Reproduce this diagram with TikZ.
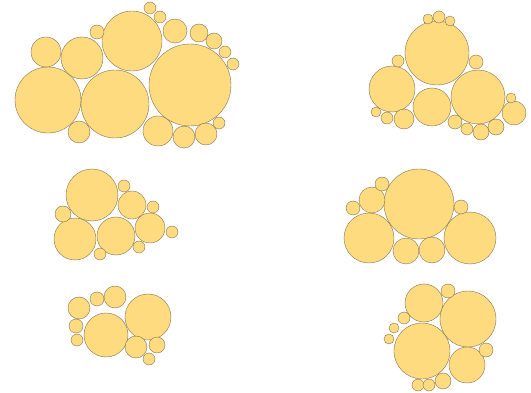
\documentclass[tikz,border=0pt]{standalone}
\definecolor{bubfill}{RGB}{255,219,128}
\definecolor{bubline}{RGB}{130,115,85}
\tikzset{bub/.style={fill=bubfill, draw=bubline, line width=0.4pt}}
\begin{document}
\begin{tikzpicture}[x=1pt, y=-1pt]
    \useasboundingbox (0,0) rectangle (531,393);

    % Top left cluster
    \foreach \cx/\cy/\r in {48/100/33, 115/104/34, 190/85/41, 132/41/30, 82/58/21,
        46/52/15, 97/32/7, 150/8/6, 160/17/6, 175/31/12, 199/33/9, 214/41/8,
        225/52/6, 233/64/6, 79/132/11, 158/131/15, 184/137/11, 206/134/11, 219/123/6}
        \draw[bub] (\cx,\cy) circle (\r pt);

    % Top right cluster
    \foreach \cx/\cy/\r in {437/53/32, 392/89/23, 432/107/19, 478/97/27,
        428/19/5, 439/17/6, 450/21/5, 398/61/6, 476/62/7, 376/112/5, 387/118/6,
        404/119/10, 455/122/7, 467/129/6, 481/132/8, 496/127/8, 514/113/12, 511/98/5}
        \draw[bub] (\cx,\cy) circle (\r pt);

    % Middle left cluster
    \foreach \cx/\cy/\r in {92/195/26, 75/239/21, 116/236/19, 132/205/14,
        150/228/15, 124/186/6, 153/207/6, 63/214/8, 172/232/6, 139/247/6, 100/254/6}
        \draw[bub] (\cx,\cy) circle (\r pt);

    % Middle right cluster
    \foreach \cx/\cy/\r in {419/204/35, 369/238/25, 470/238/26, 406/251/13,
        432/250/13, 372/200/13, 353/208/7, 382/184/7, 461/207/7}
        \draw[bub] (\cx,\cy) circle (\r pt);

    % Bottom left cluster
    \foreach \cx/\cy/\r in {148/317/23, 106/335/22, 115/297/11, 97/299/7,
        79/308/11, 76/326/7, 77/340/6, 136/347/11, 157/345/8, 149/359/6}
        \draw[bub] (\cx,\cy) circle (\r pt);

    % Bottom right cluster
    \foreach \cx/\cy/\r in {424/303/19, 468/319/28, 422/351/28, 467/365/18,
        448/291/7, 486/350/7, 404/318/6, 394/328/5, 389/339/5, 418/385/6,
        429/385/6, 443/381/8}
        \draw[bub] (\cx,\cy) circle (\r pt);
\end{tikzpicture}
\end{document}
